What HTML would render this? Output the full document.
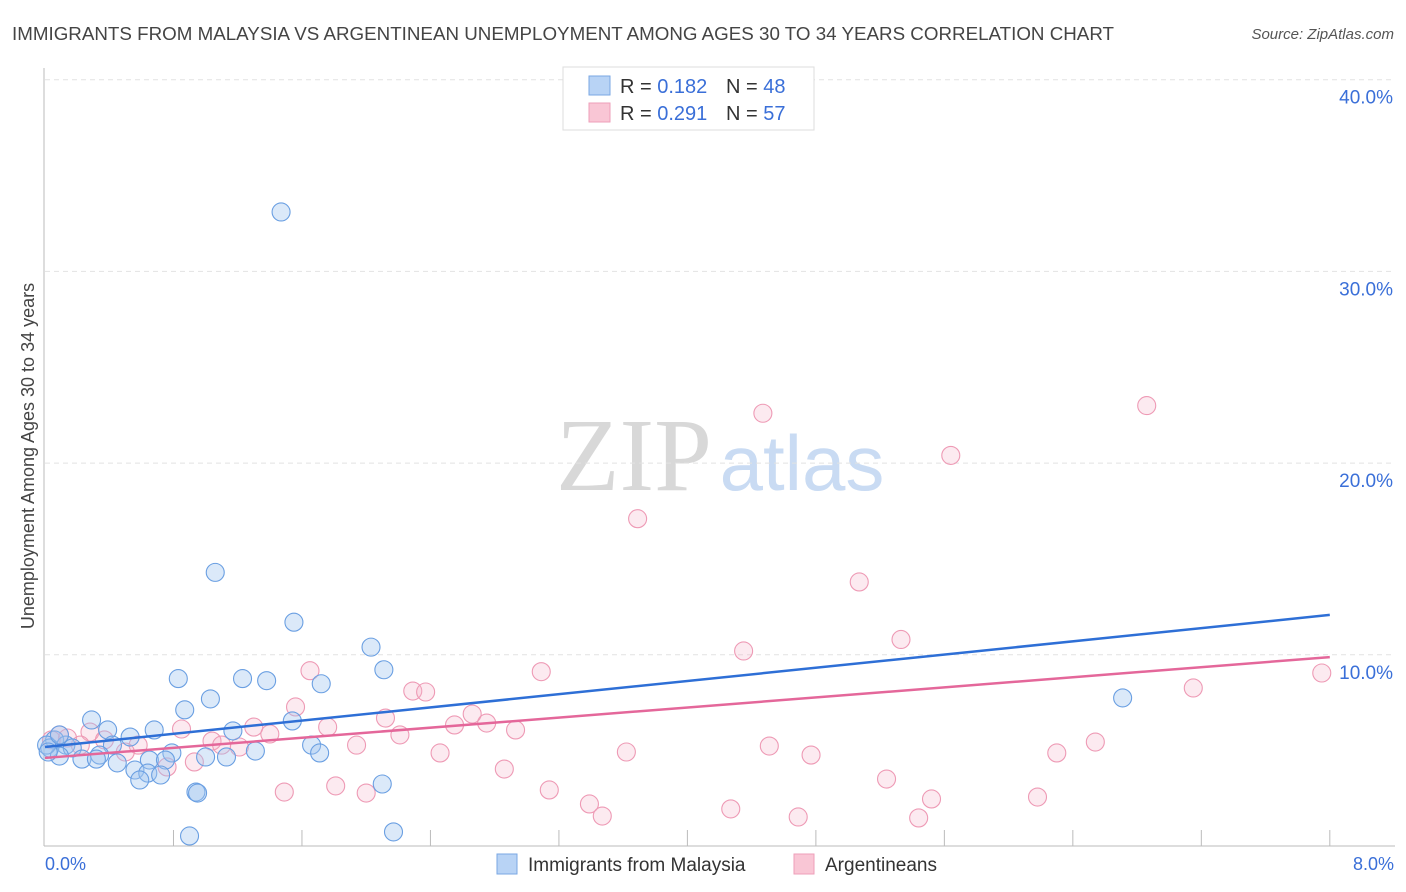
<!DOCTYPE html>
<html><head><meta charset="utf-8"><style>
body{margin:0;background:#fff;font-family:"Liberation Sans",sans-serif;}
#wrap{position:relative;width:1406px;height:892px;overflow:hidden;}
</style></head><body>
<div id="wrap">
<svg id="svg" width="1406" height="892" xmlns="http://www.w3.org/2000/svg" font-family="Liberation Sans, sans-serif">
<text x="12" y="40" font-size="18" fill="#444" textLength="1102" lengthAdjust="spacingAndGlyphs">IMMIGRANTS FROM MALAYSIA VS ARGENTINEAN UNEMPLOYMENT AMONG AGES 30 TO 34 YEARS CORRELATION CHART</text>
<text x="1394" y="39" font-size="15" fill="#555" font-style="italic" text-anchor="end">Source: ZipAtlas.com</text>
<text x="634" y="490" font-size="104" fill="#d8d8d8" font-family="Liberation Serif, serif" text-anchor="middle">ZIP</text>
<text x="802" y="490" font-size="78" fill="#c9dbf3" text-anchor="middle">atlas</text>
<g id="grid"></g>
<line x1="44" y1="68" x2="44" y2="846" stroke="#bbb"/>
<line x1="44" y1="846" x2="1395" y2="846" stroke="#bbb"/>
<g id="ticks"></g>
<text x="34" y="456" font-size="18" fill="#444" text-anchor="middle" transform="rotate(-90 34 456)">Unemployment Among Ages 30 to 34 years</text>
<text x="45" y="870" font-size="18" fill="#3a6fd8">0.0%</text>
<text x="1394" y="870" font-size="18" fill="#3a6fd8" text-anchor="end">8.0%</text>
<g id="pts"></g>
<g id="lines"></g>
<g>
<rect x="563" y="67" width="251" height="63" fill="#fff" stroke="#ddd"/>
<rect x="589" y="76" width="21" height="19" fill="#b8d3f5" stroke="#7aa7e3"/>
<rect x="589" y="103" width="21" height="19" fill="#f9c6d5" stroke="#ee9fb9"/>
<text x="620" y="93" font-size="20" fill="#333">R = <tspan fill="#3a6fd8">0.182</tspan><tspan x="726">N = </tspan><tspan fill="#3a6fd8">48</tspan></text>
<text x="620" y="120" font-size="20" fill="#333">R = <tspan fill="#3a6fd8">0.291</tspan><tspan x="726">N = </tspan><tspan fill="#3a6fd8">57</tspan></text>
</g>
<g>
<rect x="497" y="854" width="20" height="20" fill="#b8d3f5" stroke="#7aa7e3"/>
<text x="528" y="871" font-size="19" fill="#333">Immigrants from Malaysia</text>
<rect x="794" y="854" width="20" height="20" fill="#f9c6d5" stroke="#ee9fb9"/>
<text x="825" y="871" font-size="19" fill="#333">Argentineans</text>
</g>
</svg>
</div>
<script>
const blueX=[1.47,1.06,1.55,2.03,0.83,1.23,1.38,1.72,2.11,1.03,0.87,0.29,1.54,0.39,0.68,1.17,0.53,0.06,0.13,0.42,1.66,0.03,0.17,0.09,1.31,1.71,0.79,0.34,0.23,0.32,0.45,0.65,0.75,1.00,1.13,0.56,0.64,0.72,0.59,0.94,0.95,2.10,0.90,2.17,6.71,0.01,0.02,0.09];
const blueY=[33.1,14.3,11.7,10.4,8.76,8.76,8.65,8.49,9.22,7.70,7.13,6.60,6.55,6.08,6.08,6.03,5.71,5.56,5.29,5.29,5.29,5.14,5.14,4.72,4.98,4.88,4.88,4.77,4.56,4.56,4.36,4.51,4.51,4.67,4.67,3.99,3.83,3.73,3.47,2.84,2.79,3.26,0.55,0.76,7.75,5.29,4.93,5.82];
const pinkX=[4.47,6.86,5.64,3.69,5.07,5.33,4.35,3.09,1.65,7.15,7.95,2.29,2.37,1.56,0.85,1.40,1.30,1.76,2.12,2.55,2.66,2.75,2.93,2.21,1.04,1.21,1.94,1.10,0.58,0.50,4.51,3.62,2.46,4.77,6.30,6.54,0.93,0.76,2.86,5.24,1.81,1.49,2.00,3.14,6.18,5.52,3.39,4.27,4.69,3.47,5.44,0.09,0.28,0.04,0.14,0.37,0.22];
const pinkY=[22.6,23.0,20.4,17.1,13.8,10.8,10.2,9.12,9.17,8.27,9.05,8.11,8.06,7.28,6.13,5.87,6.23,6.23,6.70,6.34,6.91,6.44,6.08,5.82,5.50,5.19,5.29,5.29,5.29,4.93,5.24,4.93,4.88,4.77,4.88,5.45,4.41,4.15,4.04,3.52,3.16,2.84,2.79,2.95,2.58,2.48,2.22,1.96,1.54,1.59,1.49,5.82,5.97,5.56,5.66,5.56,5.29];
const blueTrend=[5.19,12.08];
const pinkTrend=[4.62,9.88];
const yTicks=[10,20,30,40];
const yTickLabels=["10.0%","20.0%","30.0%","40.0%"];
const xTicks=[0.8,1.6,2.4,3.2,4.0,4.8,5.6,6.4,7.2,8.0];
const NS="http://www.w3.org/2000/svg";
const sx=v=>45+v*160.6;
const sy=v=>846.5-v*19.17;
function mk(t,a,p){const e=document.createElementNS(NS,t);for(const k in a)e.setAttribute(k,a[k]);document.getElementById(p).appendChild(e);return e;}
yTicks.forEach((v,i)=>{
 const l=mk('line',{x1:45,x2:1395,y1:sy(v),y2:sy(v),stroke:'#e2e2e2','stroke-dasharray':'5,4'},'grid');
 
 
 const t=mk('text',{x:1393,y:sy(v)+24,'font-size':19,fill:'#3a6fd8','text-anchor':'end'},'grid');
 t.textContent=yTickLabels[i];
 
 
});
xTicks.forEach(v=>{
 const l=mk('line',{x1:sx(v),x2:sx(v),y1:830,y2:846,stroke:'#bbb'},'ticks');
 
 
});
pinkX.forEach((x,i)=>{
 const c=mk('circle',{cx:sx(x),cy:sy(pinkY[i]),r:9,fill:'rgba(246,180,202,0.28)',stroke:'#ee9ab5','stroke-width':1.1},'pts');
 
 
});
blueX.forEach((x,i)=>{
 const c=mk('circle',{cx:sx(x),cy:sy(blueY[i]),r:9,fill:'rgba(160,196,240,0.38)',stroke:'#6a9fe2','stroke-width':1.1},'pts');
 
 
});
const bl=mk('line',{x1:sx(0),y1:sy(blueTrend[0]),x2:sx(8),y2:sy(blueTrend[1]),stroke:'#2e6fd6','stroke-width':2.5},'lines');


const pl=mk('line',{x1:sx(0),y1:sy(pinkTrend[0]),x2:sx(8),y2:sy(pinkTrend[1]),stroke:'#e4679a','stroke-width':2.5},'lines');


</script>
</body></html>
